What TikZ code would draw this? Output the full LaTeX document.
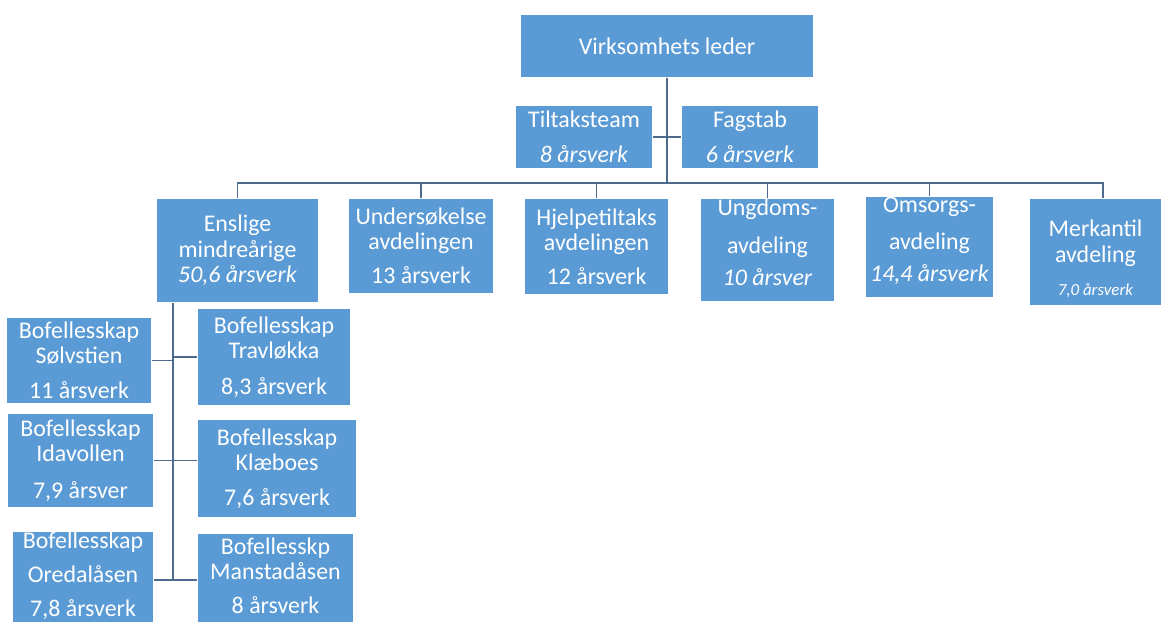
\documentclass[tikz,border=0pt]{standalone}
\usepackage{fontspec}
\setmainfont{Carlito}
\definecolor{boxblue}{HTML}{5B9BD5}
\definecolor{linkblue}{HTML}{4F6A8F}

\begin{document}
\begin{tikzpicture}[x=0.025cm,y=-0.025cm,line width=1.4pt]
  \tikzstyle{unit}=[rectangle,fill=boxblue,draw=none,text=white,align=center,
                    inner sep=0pt,font=\fontsize{17}{18}\selectfont]
  \tikzstyle{link}=[draw=linkblue]

  \useasboundingbox (0,0) rectangle (1162,622);

  \node[unit,minimum width=7.3cm,minimum height=1.55cm] (VL) at (667,46) {Virksomhets leder};
  \node[unit,minimum width=3.4cm,minimum height=1.55cm] (TT) at (584,137) {Tiltaksteam\\[7pt]\textit{8 årsverk}};
  \node[unit,minimum width=3.4cm,minimum height=1.55cm] (FS) at (750,137) {Fagstab\\[7pt]\textit{6 årsverk}};

  \node[unit,minimum width=4.025cm,minimum height=2.575cm] (EM) at (237.5,250.5) {Enslige\\mindreårige\\\textit{50,6 årsverk}};
  \node[unit,minimum width=3.6cm,minimum height=2.35cm] (UA) at (421,246) {Undersøkelse\\avdelingen\\[6pt]13 årsverk};
  \node[unit,minimum width=3.575cm,minimum height=2.375cm] (HA) at (596.5,246.5) {Hjelpetiltaks\\avdelingen\\[6pt]12 årsverk};
  \node[unit,minimum width=3.325cm,minimum height=2.55cm] (UD) at (767.5,250) {Ungdoms-\\[9pt]avdeling\\[5pt]\textit{10 årsver}\rule[-11pt]{0pt}{11pt}};
  \node[unit,minimum width=3.175cm,minimum height=2.4cm] (OA) at (929.5,247) {Omsorgs-\\[8pt]avdeling\\[5pt]\textit{14,4 årsverk}\rule[-11pt]{0pt}{11pt}};
  \node[unit,minimum width=3.275cm,minimum height=2.65cm] (MA) at (1095.5,252) {\rule{0pt}{22pt}Merkantil\\avdeling\\[6pt]{\fontsize{12}{14}\selectfont\textit{7,0 årsverk}}};

  \node[unit,minimum width=3.6cm,minimum height=2.125cm] (BS) at (79,360.5) {Bofellesskap\\Sølvstien\\[7pt]11 årsverk};
  \node[unit,minimum width=3.625cm,minimum height=2.325cm] (BI) at (80.5,460.5) {Bofellesskap\\Idavollen\\[8pt]7,9 årsver};
  \node[unit,minimum width=3.5cm,minimum height=2.4cm] (BO) at (83,580) {Bofellesskap\\[6pt]Oredalåsen\\[6pt]7,8 årsverk\rule[-8pt]{0pt}{8pt}};
  \node[unit,minimum width=3.8cm,minimum height=2.4cm] (BT) at (274,357) {Bofellesskap\\Travløkka\\[7pt]8,3 årsverk};
  \node[unit,minimum width=3.95cm,minimum height=2.425cm] (BK) at (277,468.5) {Bofellesskap\\Klæboes\\[7pt]7,6 årsverk};
  \node[unit,minimum width=3.875cm,minimum height=2.4cm] (BM) at (275.5,582) {Bofellesskp\\Manstadåsen\\[6pt]8 årsverk\rule[-9pt]{0pt}{9pt}};

  \coordinate (bus) at (667,183);
  \coordinate (ES)  at (173,302);

  % top of the tree
  \draw[link] (VL) -- (bus);
  \draw[link] (TT) -- (FS);
  \draw[link] (EM.north) |- ([xshift=0.19cm]MA.north |- bus) -- ([xshift=0.19cm]MA.north);
  \foreach \n in {UA,HA,UD,OA}
    \draw[link] (\n.north) -- (\n.north |- bus);

  % bofellesskap under enslige
  \draw[link] (EM.south -| ES) -- (BO -| ES);
  \draw[link] (BS) -- (BS -| ES);
  \draw[link] (BT) -- (BT -| ES);
  \draw[link] (BI) -- (BK.west |- BI);
  \draw[link] (BO) -- (BM.west |- BO);
\end{tikzpicture}
\end{document}
